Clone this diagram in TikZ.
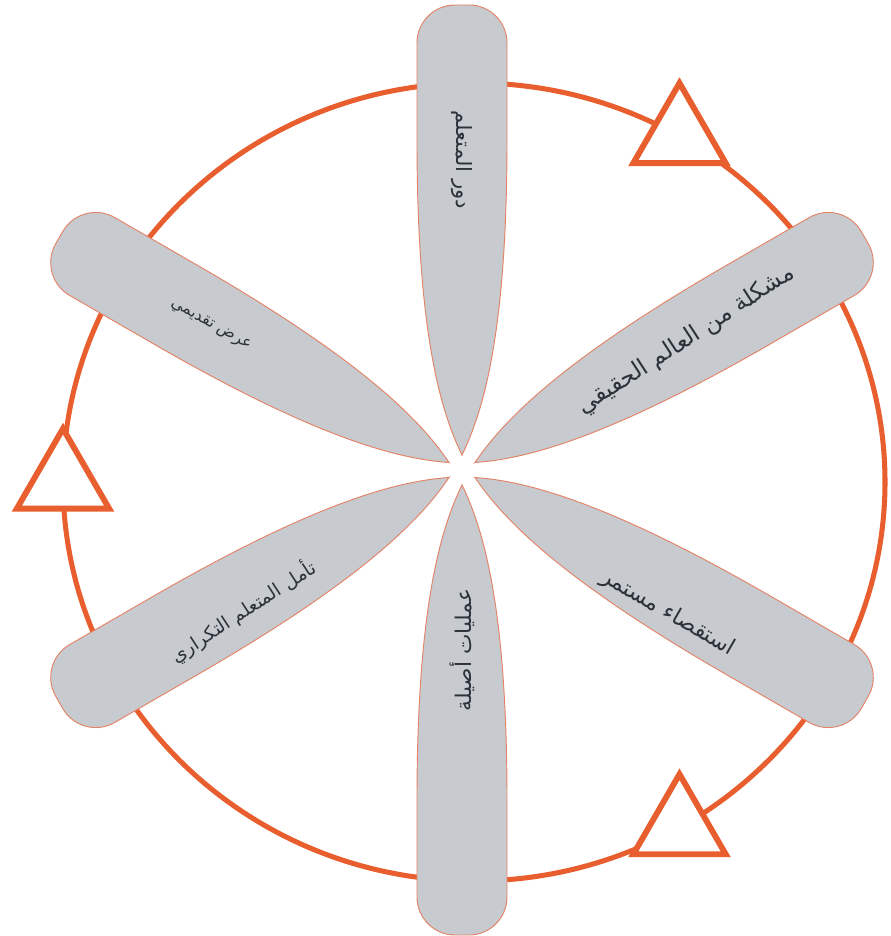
\documentclass[tikz,border=0pt]{standalone}
\usepackage{fontspec}
\usepackage{xcolor}
\usepackage{tikz}
\usetikzlibrary{shapes.geometric}
\newfontfamily\arabicfont[Script=Arabic]{DejaVu Sans}
\TeXXeTstate=1
\definecolor{ringorange}{RGB}{232, 94, 46}
\definecolor{petalgray}{RGB}{199, 203, 208}
\definecolor{petaledge}{RGB}{228, 130, 102}
\definecolor{labelgray}{RGB}{45, 50, 58}

\begin{document}
\begin{tikzpicture}[x=0.03cm, y=0.03cm,
    ring/.style={draw=ringorange, line width=4.3pt},
    turn/.style={regular polygon, regular polygon sides=3, draw=ringorange,
                 line width=5pt, fill=white, minimum size=3.2cm, inner sep=0pt},
    petal/.pic={
        \draw[draw=petaledge, fill=petalgray, line width=0.8pt]
            (15,0) .. controls (60,22) and (140,45) .. (330,45) -- (427,45)
            arc[start angle=90, end angle=0, radius=38] -- (465,-7)
            arc[start angle=0, end angle=-90, radius=38] -- (330,-45)
            .. controls (140,-45) and (60,-22) .. cycle;
    },
    lbl/.style={font={\arabicfont\fontsize{#1}{#1}\selectfont}, text=labelgray, inner sep=0pt}
]
    \useasboundingbox (-462,-466) rectangle (428,470);

    % ring with the three direction marks
    \coordinate (ringc) at (12,-12);
    \draw[ring] (ringc) ellipse [x radius=411, y radius=399];
    \node[turn] (turnA) at ([shift={(60:411 and 399)}]ringc) {};
    \node[turn] (turnB) at ([shift={(180:411 and 399)}]ringc) {};
    \node[turn] (turnC) at ([shift={(-60:411 and 399)}]ringc) {};

    % petals
    \pic[rotate=90]  {petal};
    \pic[rotate=30]  {petal};
    \pic[rotate=-30] {petal};
    \pic[rotate=-90] {petal};
    \pic[rotate=210] {petal};
    \pic[rotate=150] {petal};

    \node[lbl=18, rotate=-90] (role) at (90:310) {\beginR دور المتعلم\endR};
    \node[lbl=20, rotate=33] (problem) at (30:259) {\beginR مشكلة من العالم الحقيقي\endR};
    \node[lbl=19, rotate=-30] (inquiry) at (206,-143) {\beginR استقصاء مستمر\endR};
    \node[lbl=18.5, rotate=90] (authentic) at (-90:180) {\beginR عمليات أصيلة\endR};
    \node[lbl=16, rotate=33] (reflect) at (-219,-141) {\beginR تأمل المتعلم التكراري\endR};
    \node[lbl=13.5, rotate=-29] (present) at (150:290) {\beginR عرض تقديمي\endR};
\end{tikzpicture}
\end{document}
